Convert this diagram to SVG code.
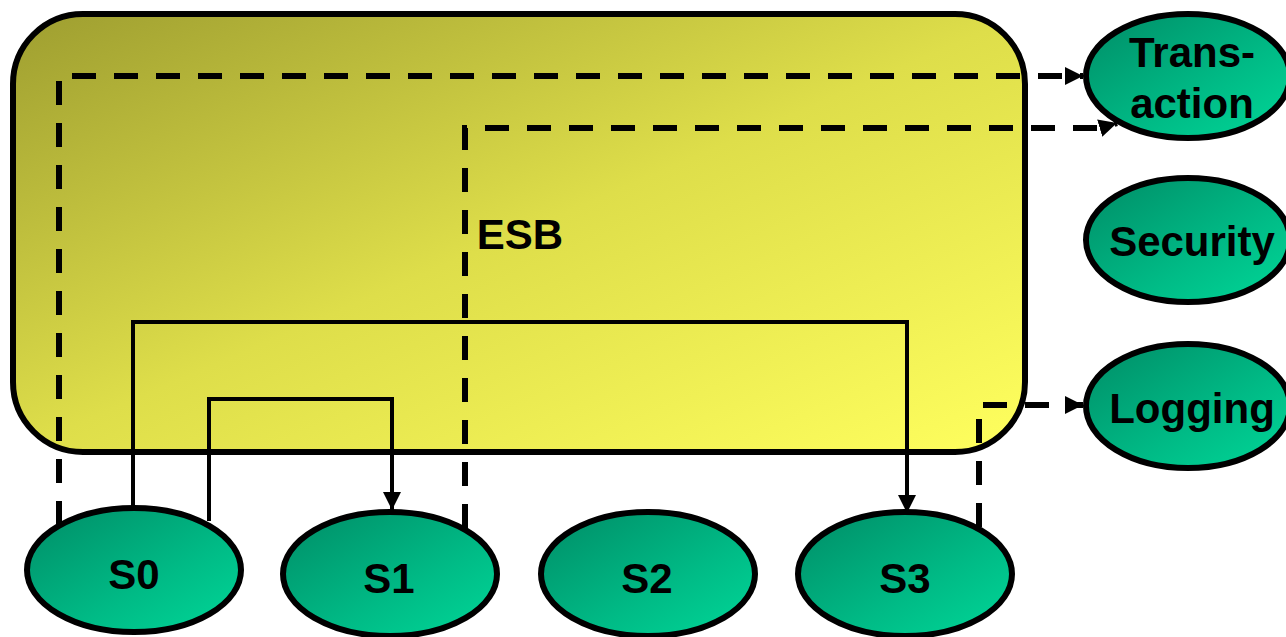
<svg xmlns="http://www.w3.org/2000/svg" width="1286" height="637" viewBox="0 0 1286 637">
<defs>
<linearGradient id="esbGrad" x1="0" y1="0" x2="1" y2="1">
<stop offset="0" stop-color="#9e9e30"/>
<stop offset="0.5" stop-color="#dede4a"/>
<stop offset="1" stop-color="#ffff5e"/>
</linearGradient>
<linearGradient id="nodeGrad" x1="0" y1="0" x2="1" y2="1">
<stop offset="0" stop-color="#008c66"/>
<stop offset="0.6" stop-color="#00bb86"/>
<stop offset="1" stop-color="#00d898"/>
</linearGradient>
<marker id="arr" markerUnits="userSpaceOnUse" markerWidth="20" markerHeight="18" refX="18" refY="9" orient="auto">
<path d="M0,0 L18,9 L0,18 Z" fill="#000"/>
</marker>
</defs>
<style>
.node ellipse{fill:url(#nodeGrad);stroke:#000;stroke-width:6}
.lbl{font-family:"Liberation Sans",Arial,sans-serif;font-weight:bold;font-size:42px;fill:#000;text-anchor:middle}
.dash{fill:none;stroke:#000;stroke-width:6;stroke-dasharray:24 18}
.solid{fill:none;stroke:#000;stroke-width:4}
</style>
<g id="esb">
<rect x="13" y="14" width="1012" height="438" rx="70" ry="70" fill="url(#esbGrad)" stroke="#000" stroke-width="6"/>
<text class="lbl" x="520" y="249">ESB</text>
</g>
<g id="connectors">
<path class="dash" d="M59,525 V76 H1083" marker-end="url(#arr)"/>
<path class="dash" d="M465,528 V128 H1100 L1117,123" marker-end="url(#arr)"/>
<path class="dash" d="M979,527 V405 H1083" marker-end="url(#arr)"/>
<path class="solid" d="M133,508 V322 H907 V513" marker-end="url(#arr)"/>
<path class="solid" d="M209,521 V399 H392 V510" marker-end="url(#arr)"/>
</g>
<g id="S0" class="node"><ellipse cx="134" cy="570" rx="107" ry="62"/><text class="lbl" x="134" y="589">S0</text></g>
<g id="S1" class="node"><ellipse cx="390" cy="574" rx="107" ry="62"/><text class="lbl" x="389" y="593">S1</text></g>
<g id="S2" class="node"><ellipse cx="648" cy="574" rx="107" ry="62"/><text class="lbl" x="647" y="593">S2</text></g>
<g id="S3" class="node"><ellipse cx="905" cy="574" rx="107" ry="62"/><text class="lbl" x="905" y="593">S3</text></g>
<g id="Transaction" class="node"><ellipse cx="1188" cy="76" rx="102" ry="62"/><text class="lbl" x="1192" y="67">Trans-</text><text class="lbl" x="1192" y="118">action</text></g>
<g id="Security" class="node"><ellipse cx="1188" cy="240" rx="102" ry="62"/><text class="lbl" x="1192" y="256">Security</text></g>
<g id="Logging" class="node"><ellipse cx="1188" cy="406" rx="102" ry="62"/><text class="lbl" x="1192" y="423">Logging</text></g>
</svg>
